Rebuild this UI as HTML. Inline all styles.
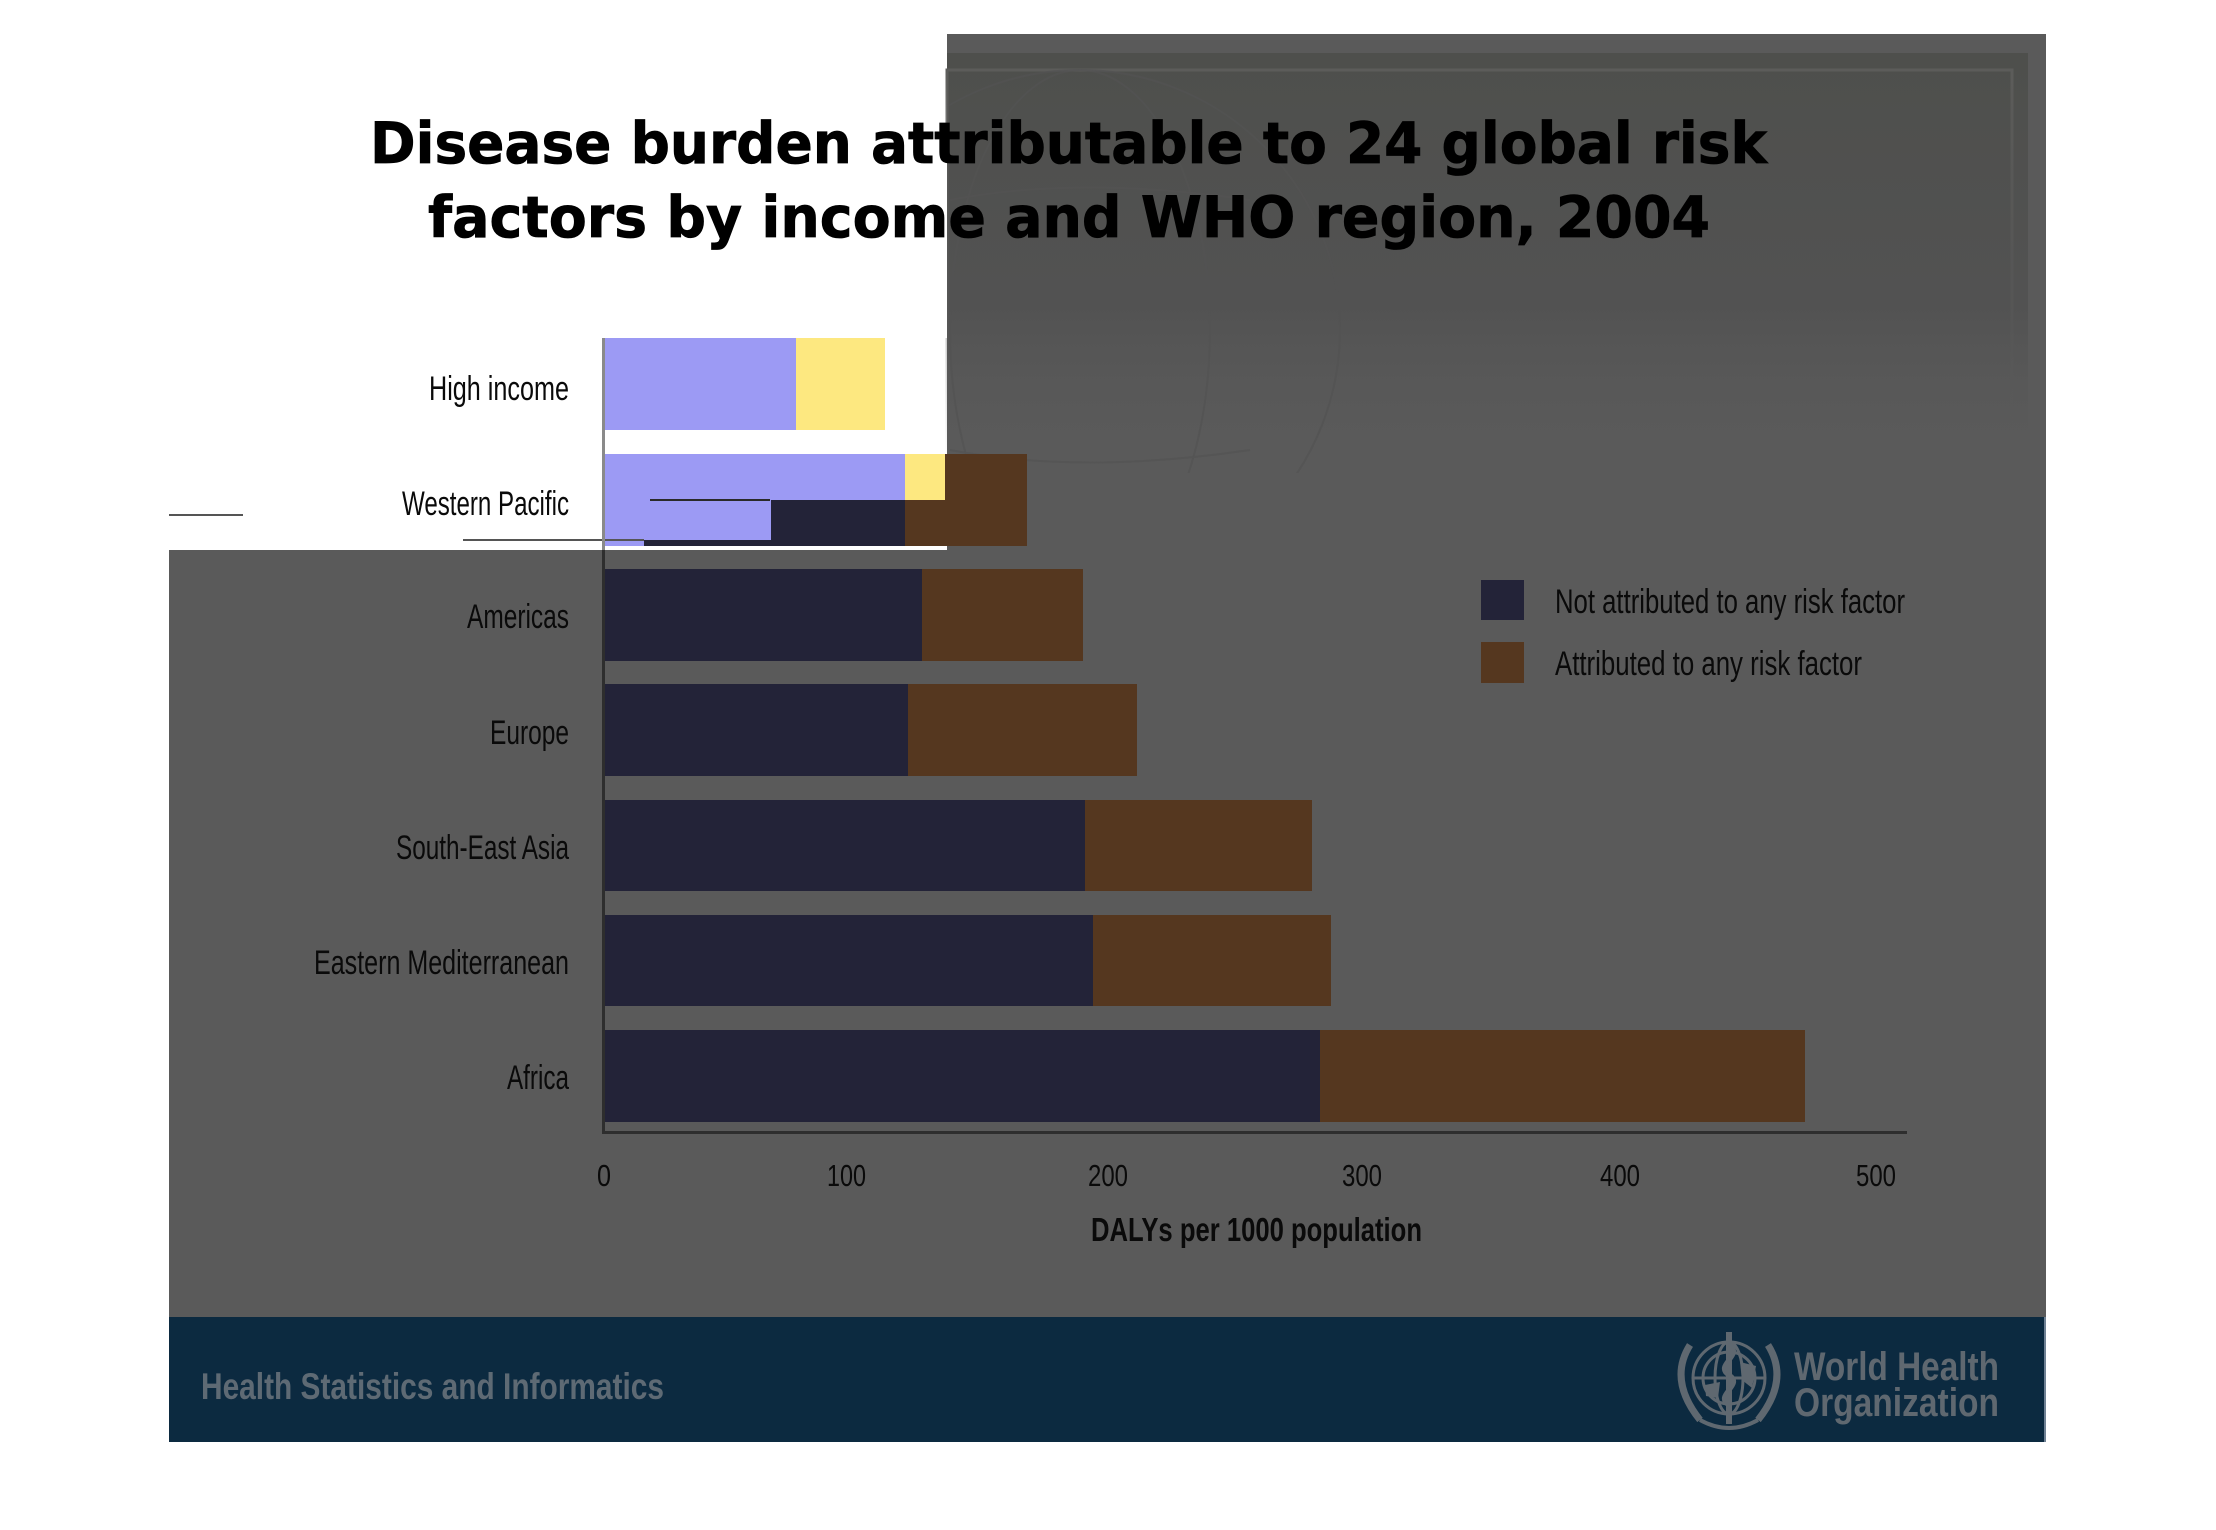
<!DOCTYPE html>
<html>
<head>
<meta charset="utf-8">
<style>
  html, body { margin: 0; padding: 0; background: #ffffff; }
  svg { display: block; }
  .lab { font-family: "Liberation Sans Narrow", "Liberation Sans", sans-serif; fill: #0a0a0a; }
</style>
</head>
<body>
<svg width="2216" height="1530" viewBox="0 0 2216 1530" xmlns="http://www.w3.org/2000/svg">
  <defs>
    <linearGradient id="pan" x1="0" y1="0" x2="0" y2="1">
      <stop offset="0" stop-color="#4e4f4c" stop-opacity="1"/>
      <stop offset="0.6" stop-color="#505050" stop-opacity="0.8"/>
      <stop offset="1" stop-color="#5a5a5a" stop-opacity="0"/>
    </linearGradient>
    <linearGradient id="panline" x1="0" y1="0" x2="0" y2="1">
      <stop offset="0" stop-color="#5c5c5a" stop-opacity="1"/>
      <stop offset="1" stop-color="#5a5a5a" stop-opacity="0"/>
    </linearGradient>
    <clipPath id="panclip">
      <rect x="949" y="53" width="1079" height="420"/>
    </clipPath>
  </defs>

  <rect x="0" y="0" width="2216" height="1530" fill="#ffffff"/>

  <!-- slide gray background (union of two rects) -->
  <rect x="947" y="34" width="1099" height="1284" fill="#5a5a5a"/>
  <rect x="169" y="550" width="1877" height="768" fill="#5a5a5a"/>

  <!-- top-right inner panel -->
  <rect x="947" y="53" width="1081" height="420" fill="url(#pan)"/>
  <rect x="947" y="70" width="1065" height="390" fill="none" stroke="url(#panline)" stroke-width="3"/>

  <!-- faint globe watermark (clipped to panel) -->
  <g clip-path="url(#panclip)" fill="none" stroke="#535353" stroke-width="2" opacity="0.7">
    <circle cx="1080" cy="330" r="260"/>
    <ellipse cx="1080" cy="330" rx="130" ry="260"/>
    <path d="M 950 200 Q 1080 175 1250 200"/>
    <path d="M 950 450 Q 1080 475 1250 450"/>
  </g>

  <!-- white divider line at panel edge -->
  <rect x="944" y="163" width="3" height="175" fill="#ffffff"/>

  <!-- footer -->
  <rect x="169" y="1317" width="1877" height="125" fill="#0c2a40"/>
  <rect x="2044" y="1317" width="2" height="125" fill="#6f8194"/>

  <!-- Title -->
  <g font-family="'DejaVu Sans', 'Liberation Sans', sans-serif" font-weight="bold" font-size="57" fill="#000000" stroke="#000000" stroke-width="0.8">
    <text x="370" y="163" textLength="1397" lengthAdjust="spacingAndGlyphs">Disease burden attributable to 24 global risk</text>
    <text x="428" y="237" textLength="1282" lengthAdjust="spacingAndGlyphs">factors by income and WHO region, 2004</text>
  </g>

  <!-- High income bar -->
  <rect x="605" y="338" width="191" height="92" fill="#9c9af4"/>
  <rect x="796" y="338" width="89" height="92" fill="#fde880"/>

  <!-- Western Pacific bar (overlay artifact) -->
  <rect x="905" y="454" width="122" height="92" fill="#55371f"/>
  <rect x="605" y="500" width="300" height="46" fill="#232338"/>
  <rect x="605" y="454" width="300" height="46" fill="#9c9af4"/>
  <rect x="905" y="454" width="40" height="46" fill="#fde880"/>
  <rect x="605" y="500" width="166" height="40" fill="#9c9af4"/>
  <rect x="605" y="540" width="39" height="6" fill="#9c9af4"/>
  <rect x="605" y="546" width="39" height="4" fill="#ffffff"/>
  <rect x="650" y="499" width="120" height="2" fill="#2a2a2a"/>
  <rect x="463" y="539" width="181" height="2" fill="#555555"/>
  <rect x="169" y="514" width="74" height="2" fill="#555555"/>

  <!-- Remaining bars -->
  <rect x="605" y="569" width="317" height="92" fill="#232338"/>
  <rect x="922" y="569" width="161" height="92" fill="#55371f"/>

  <rect x="605" y="684" width="303" height="92" fill="#232338"/>
  <rect x="908" y="684" width="229" height="92" fill="#55371f"/>

  <rect x="605" y="800" width="480" height="91" fill="#232338"/>
  <rect x="1085" y="800" width="227" height="91" fill="#55371f"/>

  <rect x="605" y="915" width="488" height="91" fill="#232338"/>
  <rect x="1093" y="915" width="238" height="91" fill="#55371f"/>

  <rect x="605" y="1030" width="715" height="92" fill="#232338"/>
  <rect x="1320" y="1030" width="485" height="92" fill="#55371f"/>

  <!-- Axes -->
  <rect x="602" y="338" width="3" height="212" fill="#8a8a8a"/>
  <rect x="602" y="550" width="3" height="584" fill="#2e2e2e"/>
  <rect x="602" y="1131" width="1305" height="3" fill="#2e2e2e"/>

  <!-- Category labels -->
  <g class="lab" font-size="34">
    <text x="429" y="400" textLength="140" lengthAdjust="spacingAndGlyphs">High income</text>
    <text x="402" y="515" textLength="167" lengthAdjust="spacingAndGlyphs">Western Pacific</text>
    <text x="467" y="628" textLength="102" lengthAdjust="spacingAndGlyphs">Americas</text>
    <text x="490" y="744" textLength="79" lengthAdjust="spacingAndGlyphs">Europe</text>
    <text x="396" y="859" textLength="173" lengthAdjust="spacingAndGlyphs">South-East Asia</text>
    <text x="314" y="974" textLength="255" lengthAdjust="spacingAndGlyphs">Eastern Mediterranean</text>
    <text x="507" y="1089" textLength="62" lengthAdjust="spacingAndGlyphs">Africa</text>
  </g>

  <!-- Tick labels -->
  <g class="lab" font-size="31">
    <text x="597" y="1186" textLength="14" lengthAdjust="spacingAndGlyphs">0</text>
    <text x="827" y="1186" textLength="39" lengthAdjust="spacingAndGlyphs">100</text>
    <text x="1088" y="1186" textLength="40" lengthAdjust="spacingAndGlyphs">200</text>
    <text x="1342" y="1186" textLength="40" lengthAdjust="spacingAndGlyphs">300</text>
    <text x="1600" y="1186" textLength="40" lengthAdjust="spacingAndGlyphs">400</text>
    <text x="1856" y="1186" textLength="40" lengthAdjust="spacingAndGlyphs">500</text>
  </g>

  <!-- X axis title -->
  <text class="lab" x="1091" y="1241" font-size="33" font-weight="bold" textLength="331" lengthAdjust="spacingAndGlyphs">DALYs per 1000 population</text>

  <!-- Legend -->
  <rect x="1481" y="580" width="43" height="40" fill="#232338"/>
  <rect x="1481" y="642" width="43" height="41" fill="#55371f"/>
  <g class="lab" font-size="34">
    <text x="1555" y="613" textLength="350" lengthAdjust="spacingAndGlyphs">Not attributed to any risk factor</text>
    <text x="1555" y="675" textLength="307" lengthAdjust="spacingAndGlyphs">Attributed to any risk factor</text>
  </g>

  <!-- Footer text -->
  <text x="201" y="1399" font-family="'Liberation Sans', sans-serif" font-weight="bold" font-size="37" fill="#5e6a74" textLength="463" lengthAdjust="spacingAndGlyphs">Health Statistics and Informatics</text>

  <!-- WHO logo -->
  <g fill="none" stroke="#5f6870" stroke-width="3">
    <circle cx="1729" cy="1378" r="36"/>
    <circle cx="1729" cy="1378" r="26"/>
    <ellipse cx="1729" cy="1378" rx="14" ry="36"/>
    <line x1="1693" y1="1378" x2="1765" y2="1378"/>
    <path d="M 1690 1345 Q 1668 1380 1700 1420" stroke-width="7"/>
    <path d="M 1768 1345 Q 1790 1380 1758 1420" stroke-width="7"/>
    <path d="M 1700 1420 Q 1729 1436 1758 1420" stroke-width="4"/>
  </g>
  <rect x="1726" y="1332" width="6" height="92" fill="#5f6870"/>
  <path d="M 1729 1345 C 1745 1355 1713 1365 1729 1375 C 1745 1385 1713 1395 1729 1405" fill="none" stroke="#5f6870" stroke-width="5"/>
  <path d="M 1705 1385 L 1720 1382 L 1718 1398 L 1706 1396 Z" fill="#5f6870"/>
  <path d="M 1740 1362 L 1756 1366 L 1752 1388 L 1742 1380 Z" fill="#5f6870"/>

  <g font-family="'Liberation Sans', sans-serif" font-weight="bold" fill="#5f6870">
    <text x="1794" y="1380" font-size="40" textLength="205" lengthAdjust="spacingAndGlyphs">World Health</text>
    <text x="1794" y="1416" font-size="40" textLength="205" lengthAdjust="spacingAndGlyphs">Organization</text>
  </g>
</svg>
</body>
</html>
